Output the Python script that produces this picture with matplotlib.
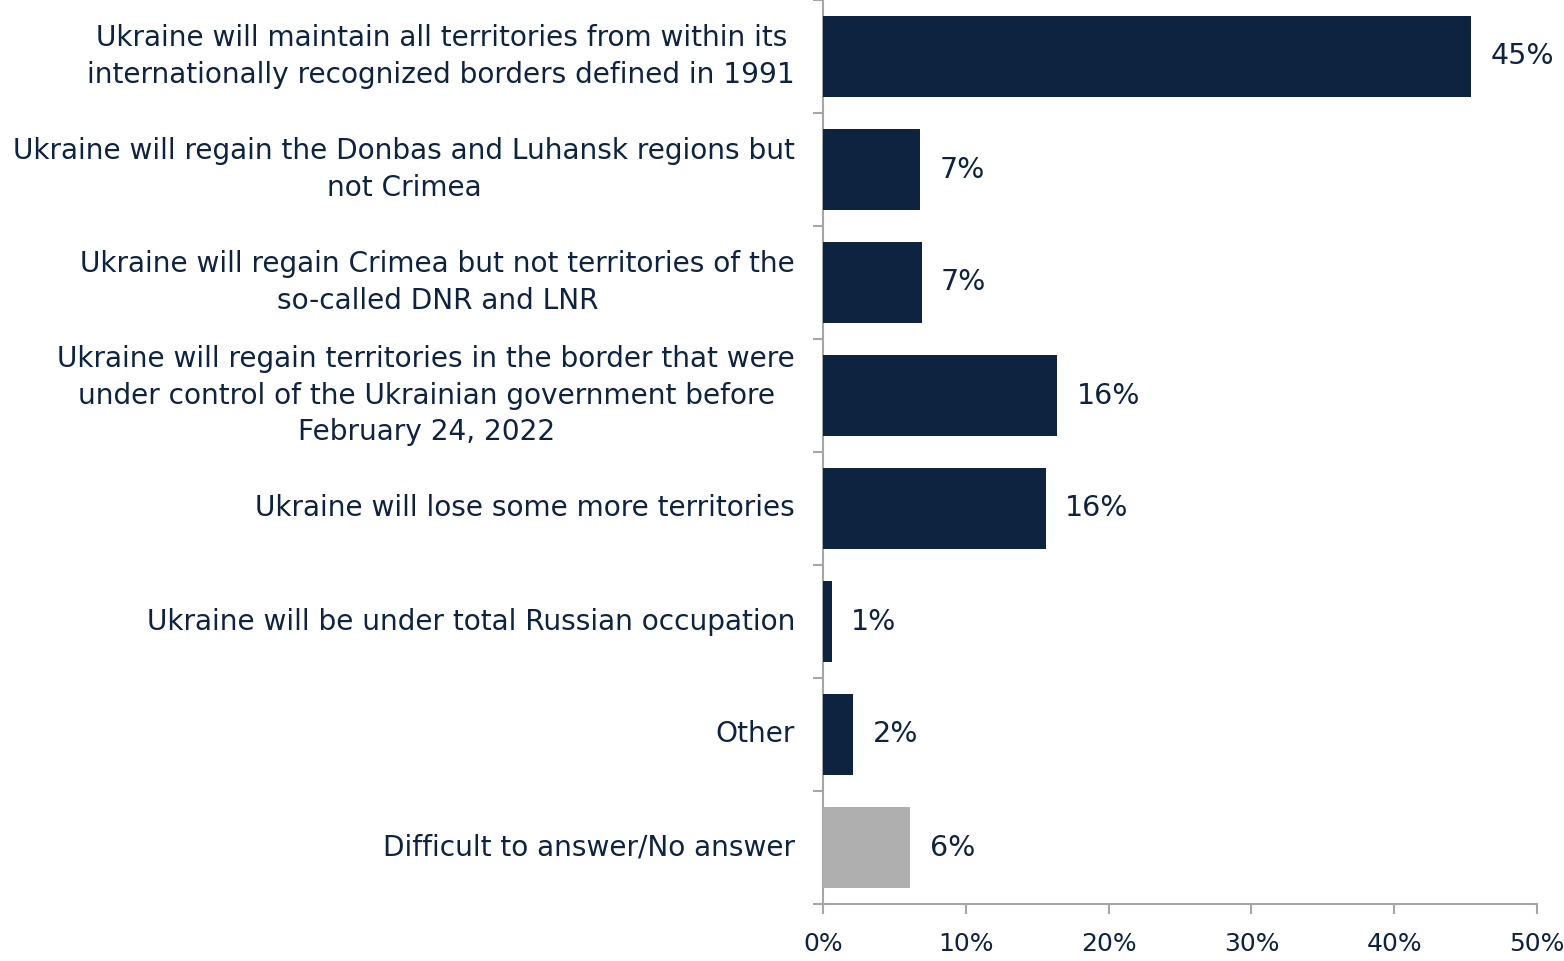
import numpy as np
import matplotlib.pyplot as plt
from matplotlib.ticker import FixedLocator, PercentFormatter

# Data
categories = [
    'Ukraine will maintain all territories from within its\ninternationally recognized borders defined in 1991',
    'Ukraine will regain the Donbas and Luhansk regions but\nnot Crimea',
    'Ukraine will regain Crimea but not territories of the\nso-called DNR and LNR',
    'Ukraine will regain territories in the border that were\nunder control of the Ukrainian government before\nFebruary 24, 2022',
    'Ukraine will lose some more territories',
    'Ukraine will be under total Russian occupation',
    'Other',
    'Difficult to answer/No answer',
]
values = [45.4, 6.8, 6.9, 16.4, 15.6, 0.6, 2.1, 6.1]
value_labels = ['45%', '7%', '7%', '16%', '16%', '1%', '2%', '6%']
x_ticks = [0, 10, 20, 30, 40, 50]

NAVY = '#0e2340'
GREY_BAR = '#afafaf'
AXIS = '#a6a6a6'

plt.rcParams['font.family'] = 'DejaVu Sans'

fig = plt.figure(figsize=(15.64, 9.61), dpi=100)
ax = fig.add_axes([823 / 1564, 57 / 961, 714 / 1564, 904 / 961])

y = np.arange(len(categories))
colors = [NAVY] * (len(categories) - 1) + [GREY_BAR]
bars = ax.barh(y, values, height=0.71, color=colors, zorder=3)
ax.bar_label(bars, labels=value_labels, padding=14, fontsize=20.5, color=NAVY)

ax.set_xlim(0, 50)
ax.set_ylim(len(categories) - 0.5, -0.5)

# y axis: labels at centres, tick marks at category boundaries
ax.set_yticks(y)
ax.set_yticklabels(categories, multialignment='center', linespacing=1.4, va='center')
ax.yaxis.set_minor_locator(FixedLocator(np.arange(-0.5, len(categories), 1.0)))
ax.tick_params(axis='y', which='major', length=0, pad=20, labelsize=20.2, labelcolor=NAVY)
ax.tick_params(axis='y', which='minor', length=7, width=1.5, color=AXIS, direction='out')

ax.set_xticks(x_ticks)
ax.xaxis.set_major_formatter(PercentFormatter(decimals=0))
ax.tick_params(axis='x', length=7, width=1.5, color=AXIS, pad=13, labelsize=18, labelcolor=NAVY)

for side in ['top', 'right']:
    ax.spines[side].set_visible(False)
for side in ['left', 'bottom']:
    ax.spines[side].set_color(AXIS)
    ax.spines[side].set_linewidth(1.5)

fig.savefig('out.png', dpi=100)
